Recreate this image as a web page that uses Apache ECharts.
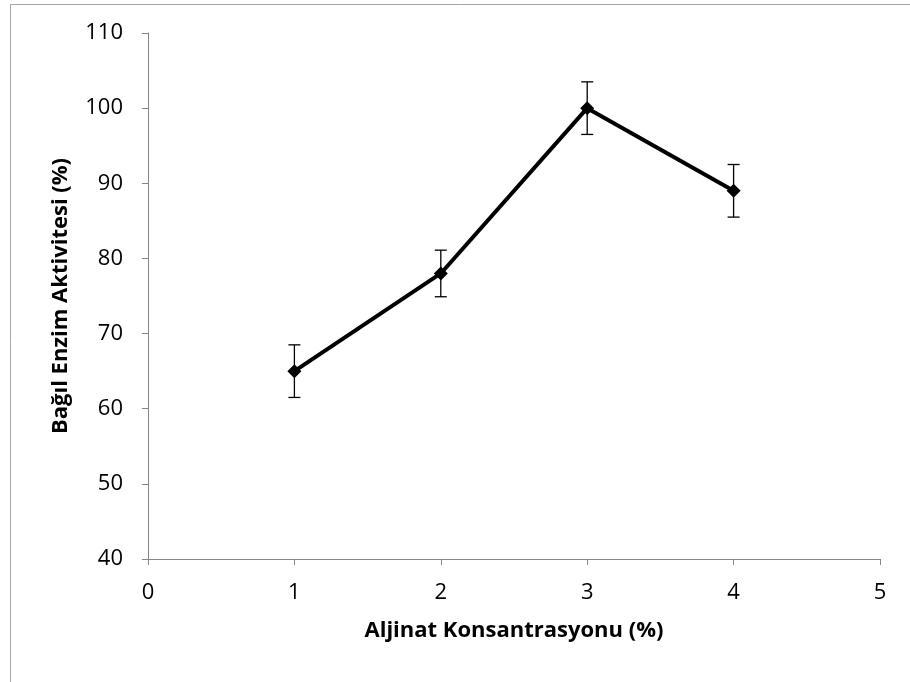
<!DOCTYPE html>
<html><head><meta charset="utf-8">
<script src="https://cdn.jsdelivr.net/npm/echarts@6/dist/echarts.min.js"></script>
<style>html,body{margin:0;padding:0;background:#fff}#c{width:910px;height:682px}</style>
</head><body><div id="c"></div>
<script>
const xValues = [1, 2, 3, 4];
const yValues = [65, 78, 100, 89];
const yErrors = [3.5, 3.1, 3.5, 3.5];
const xTitle = 'Aljinat Konsantrasyonu (%)';
const yTitle = 'Bağıl Enzim Aktivitesi (%)';

const FONT = 'Open Sans';
const chart = echarts.init(document.getElementById('c'), null, {renderer: 'canvas'});
const lineData = xValues.map((x, i) => [x, yValues[i]]);
const errData = xValues.map((x, i) => [x, yValues[i] - yErrors[i], yValues[i] + yErrors[i]]);

chart.setOption({
  animation: false,
  backgroundColor: '#fff',
  graphic: [{
    type: 'rect', left: 8, top: 2, shape: {x: 0, y: 0, width: 1000, height: 800},
    style: {fill: 'none', stroke: '#a6a6a6', lineWidth: 1}, z: -10
  }],
  grid: {left: 148, right: 30, top: 33, bottom: 123},
  xAxis: {
    type: 'value', min: 0, max: 5, interval: 1,
    name: xTitle, nameLocation: 'middle', nameGap: 61,
    nameTextStyle: {fontFamily: FONT, fontWeight: 'bold', fontSize: 22, color: '#000'},
    axisLine: {onZero: false, lineStyle: {color: '#868686', width: 1}},
    axisTick: {show: true, inside: false, length: 6, lineStyle: {color: '#868686'}},
    axisLabel: {fontFamily: FONT, fontSize: 22, color: '#000', margin: 23},
    splitLine: {show: false}
  },
  yAxis: {
    type: 'value', min: 40, max: 110, interval: 10,
    name: yTitle, nameLocation: 'middle', nameGap: 76,
    nameTextStyle: {fontFamily: FONT, fontWeight: 'bold', fontSize: 22, color: '#000'},
    axisLine: {show: true, lineStyle: {color: '#868686', width: 1}},
    axisTick: {show: true, inside: false, length: 6, lineStyle: {color: '#868686'}},
    axisLabel: {fontFamily: FONT, fontSize: 22, color: '#000', margin: 25},
    splitLine: {show: false}
  },
  series: [{
    type: 'line', data: lineData,
    lineStyle: {color: '#000', width: 4},
    itemStyle: {color: '#000'},
    symbol: 'diamond', symbolSize: 14, z: 3
  }, {
    type: 'custom', data: errData, z: 4,
    renderItem: function (params, api) {
      const x = api.value(0);
      const lo = api.coord([x, api.value(1)]);
      const hi = api.coord([x, api.value(2)]);
      const w = 6;
      const st = {stroke: '#000', lineWidth: 1.3};
      return {type: 'group', children: [
        {type: 'line', shape: {x1: lo[0], y1: lo[1], x2: hi[0], y2: hi[1]}, style: st},
        {type: 'line', shape: {x1: lo[0] - w, y1: lo[1], x2: lo[0] + w, y2: lo[1]}, style: st},
        {type: 'line', shape: {x1: hi[0] - w, y1: hi[1], x2: hi[0] + w, y2: hi[1]}, style: st}
      ]};
    }
  }]
});
</script></body></html>
